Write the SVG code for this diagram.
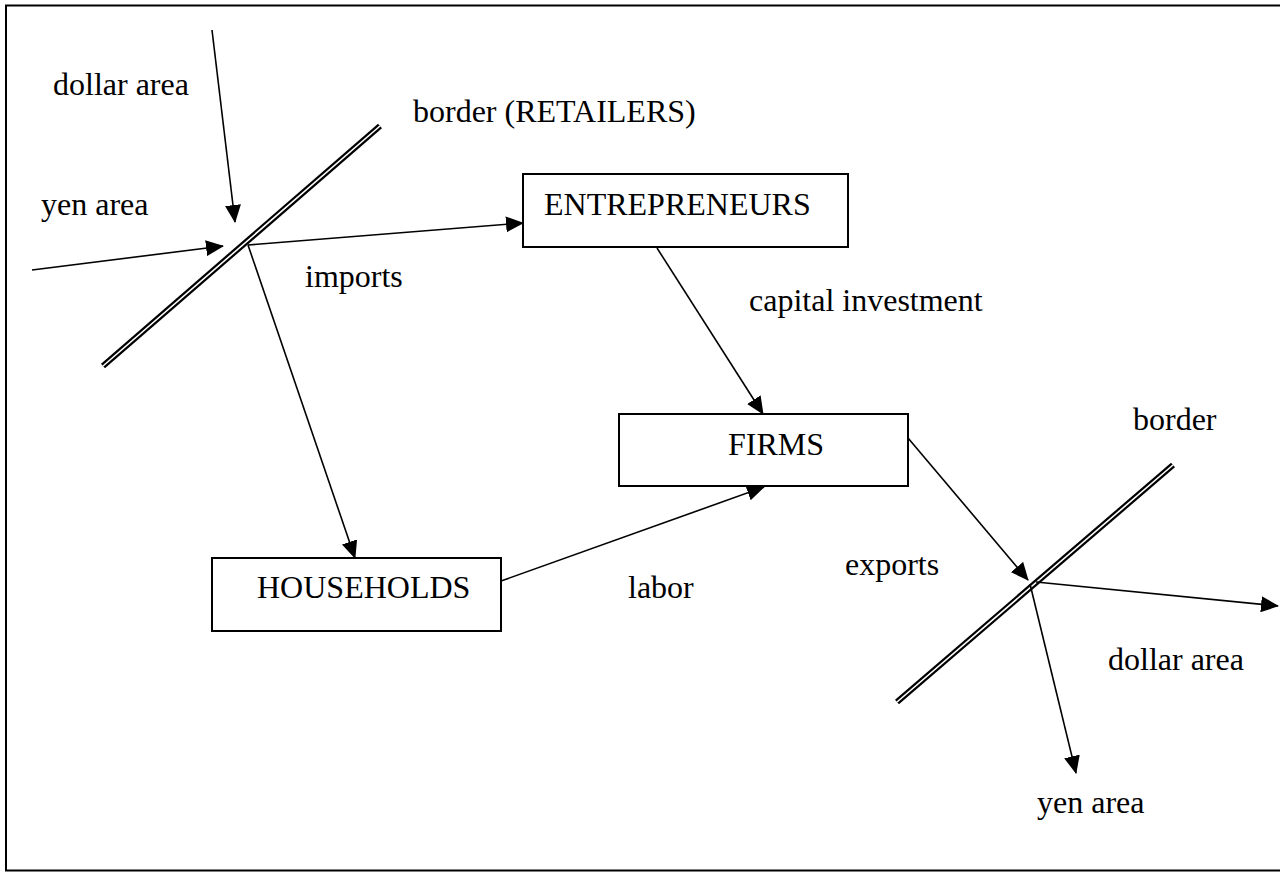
<svg xmlns="http://www.w3.org/2000/svg" width="1280" height="872" viewBox="0 0 1280 872">
<style>
text{font-family:"Liberation Serif","Times New Roman",serif;font-size:32px;fill:#000}
.box{fill:#fff;stroke:#000;stroke-width:2}
.edge{stroke:#000;stroke-width:1.6;fill:none}
.bo{stroke:#000;stroke-width:6;fill:none}
.bi{stroke:#fff;stroke-width:1.6;fill:none}
</style>
<defs>
<marker id="ah" markerUnits="userSpaceOnUse" markerWidth="18" markerHeight="16" viewBox="0 0 18 16" refX="17" refY="8" orient="auto">
<path d="M0,0 L18,8 L0,16 Z" fill="#000"/>
</marker>
</defs>
<rect width="1280" height="872" fill="#fff"/>
<path d="M1290,5.5 H6 V870.5 H1290" fill="none" stroke="#000" stroke-width="2"/>
<g id="borders">
<line class="bo" x1="103" y1="366" x2="380" y2="126"/>
<line class="bi" x1="103" y1="366" x2="380" y2="126"/>
<line class="bo" x1="897" y1="702" x2="1173" y2="465"/>
<line class="bi" x1="897" y1="702" x2="1173" y2="465"/>
</g>
<g id="connectors">
<line class="edge" x1="212" y1="30" x2="235" y2="222" marker-end="url(#ah)"/>
<line class="edge" x1="32" y1="270" x2="223" y2="246" marker-end="url(#ah)"/>
<line class="edge" x1="248" y1="245" x2="523" y2="223" marker-end="url(#ah)"/>
<line class="edge" x1="248" y1="245" x2="355" y2="558" marker-end="url(#ah)"/>
<line class="edge" x1="657" y1="248" x2="763" y2="414" marker-end="url(#ah)"/>
<line class="edge" x1="501" y1="581" x2="764" y2="487" marker-end="url(#ah)"/>
<line class="edge" x1="908" y1="438" x2="1028" y2="580" marker-end="url(#ah)"/>
<line class="edge" x1="1036" y1="582" x2="1278" y2="606" marker-end="url(#ah)"/>
<line class="edge" x1="1030" y1="584" x2="1076" y2="773" marker-end="url(#ah)"/>
</g>
<g id="entrepreneurs">
<rect class="box" x="523" y="174" width="325" height="73"/>
<text x="544" y="215">ENTREPRENEURS</text>
</g>
<g id="firms">
<rect class="box" x="619" y="414" width="289" height="72"/>
<text x="728" y="455">FIRMS</text>
</g>
<g id="households">
<rect class="box" x="212" y="558" width="289" height="73"/>
<text x="257" y="598">HOUSEHOLDS</text>
</g>
<g id="labels">
<text x="53" y="95">dollar area</text>
<text x="41" y="215">yen area</text>
<text x="413" y="122">border (RETAILERS)</text>
<text x="305" y="287">imports</text>
<text x="749" y="311">capital investment</text>
<text x="628" y="598">labor</text>
<text x="1133" y="430">border</text>
<text x="845" y="575">exports</text>
<text x="1108" y="670">dollar area</text>
<text x="1037" y="813">yen area</text>
</g>
</svg>
